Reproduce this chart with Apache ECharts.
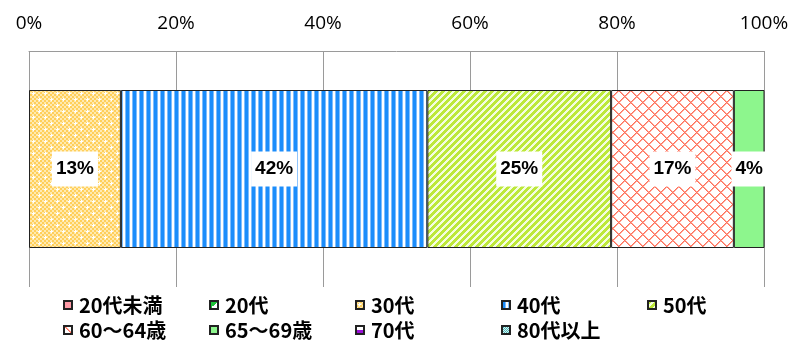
<!DOCTYPE html>
<html>
<head>
<meta charset="utf-8">
<script src="https://cdn.jsdelivr.net/npm/echarts@6/dist/echarts.min.js"></script>
<style>
  html, body { margin: 0; padding: 0; background: #fff; }
  #chart { width: 792px; height: 345px; }
</style>
</head>
<body>
<div id="chart"></div>
<script>
// Age-group composition, one stacked 100% bar
const ageGroups = ['20代未満', '20代', '30代', '40代', '50代', '60～64歳', '65～69歳', '70代', '80代以上'];
const shares = [null, null, 12.5, 41.7, 25.0, 16.7, 4.2, null, null];
const axisTicks = [0, 20, 40, 60, 80, 100];
const legendRows = [
  ['20代未満', '20代', '30代', '40代', '50代'],
  ['60～64歳', '65～69歳', '70代', '80代以上']
];

// Small tiled fills built pixel by pixel
function makeTile(w, h, pixel) {
  const c = document.createElement('canvas');
  c.width = w; c.height = h;
  const ctx = c.getContext('2d');
  for (let y = 0; y < h; y++) {
    for (let x = 0; x < w; x++) {
      ctx.fillStyle = pixel(x, y);
      ctx.fillRect(x, y, 1, 1);
    }
  }
  return { image: c, repeat: 'repeat' };
}

// 30代: fine yellow checker with white sparkles
const fill30 = makeTile(12, 12, (x, y) => {
  const sparks = [[3, 3], [9, 9]];
  for (const [sx, sy] of sparks) {
    if ((x === sx && Math.abs(y - sy) <= 1) || (y === sy && Math.abs(x - sx) <= 1)) return '#ffffff';
  }
  return ((Math.floor(x / 2) + Math.floor(y / 2)) % 2 === 0) ? '#ffcf5a' : '#ffeab0';
});

// 40代: vertical blue stripes
const fill40 = makeTile(7, 1, (x) => {
  if (x < 3) return '#1b8dfb';
  if (x === 3 || x === 6) return '#7fbdfc';
  return '#ffffff';
});

// 50代: rising diagonal yellow-green stripes
const fill50 = makeTile(7, 7, (x, y) => ((x + y) % 7 < 4) ? '#bde83a' : '#f4fde0');

// 60～64歳: salmon diamond lattice on white
const fill60 = makeTile(12, 12, (x, y) => {
  const d1 = (x + y) % 12;
  const d2 = (x - y + 120) % 12;
  if (d1 < 1 || d2 < 1) return '#ff6f5a';
  if (d1 < 2 || d2 < 2) return '#ffa898';
  return '#ffffff';
});

// 80代以上: teal check
const fill80 = makeTile(4, 4, (x, y) => ((x + y) % 2 === 0) ? '#4fb8b8' : '#d8f3f3');

const fills = [
  '#ff9aa6',
  { type: 'linear', x: 0, y: 0, x2: 1, y2: 1, colorStops: [
    { offset: 0, color: '#1fc43a' }, { offset: 0.5, color: '#1fc43a' },
    { offset: 0.5, color: '#ffffff' }, { offset: 1, color: '#ffffff' } ] },
  fill30,
  fill40,
  fill50,
  fill60,
  '#8df68d',
  { type: 'linear', x: 0, y: 0, x2: 0, y2: 1, colorStops: [
    { offset: 0, color: '#ffffff' }, { offset: 0.5, color: '#ffffff' },
    { offset: 0.5, color: '#9a10d8' }, { offset: 1, color: '#9a10d8' } ] },
  fill80
];

const labelFont = '"Liberation Sans", Arial, sans-serif';
const cjkFont = '"Noto Sans CJK JP", "Noto Sans", sans-serif';

const series = ageGroups.map((name, i) => ({
  name: name,
  type: 'bar',
  stack: 'total',
  barWidth: 158,
  data: [shares[i] == null ? '-' : shares[i]],
  itemStyle: { color: fills[i], borderColor: '#222', borderWidth: 1 },
  label: {
    show: shares[i] != null,
    position: 'inside',
    formatter: (p) => Math.round(p.value) + '%',
    backgroundColor: '#ffffff',
    padding: [8, 4, 8, 4],
    color: '#000',
    fontFamily: labelFont,
    fontWeight: 'bold',
    fontSize: 19
  },
  emphasis: { disabled: true }
}));

// One legend block per entry so the entries sit in fixed columns
const legends = [];
legendRows.forEach((row, r) => {
  row.forEach((name, c) => {
    legends.push({
      data: [name],
      left: 63 + c * 146,
      top: 295 + r * 25,
      padding: 0,
      itemWidth: 8,
      itemHeight: 8,
      selectedMode: false,
      icon: 'rect',
      textStyle: {
        fontFamily: cjkFont,
        fontWeight: 'bold',
        fontSize: 20,
        color: '#000',
        padding: [0, 0, 0, 2]
      }
    });
  });
});

const chart = echarts.init(document.getElementById('chart'), null, { renderer: 'canvas' });
chart.setOption({
  animation: false,
  backgroundColor: '#ffffff',
  grid: { left: 29, right: 28, top: 51, bottom: 58, containLabel: false },
  xAxis: {
    type: 'value',
    position: 'top',
    min: axisTicks[0],
    max: axisTicks[axisTicks.length - 1],
    interval: axisTicks[1] - axisTicks[0],
    axisLine: { show: true, lineStyle: { color: '#9a9a9a', width: 1 } },
    axisTick: { show: false },
    axisLabel: {
      formatter: '{value}%',
      margin: 18,
      color: '#000',
      fontFamily: '"Open Sans", "Liberation Sans", sans-serif',
      fontSize: 19
    },
    splitLine: { show: true, lineStyle: { color: '#9a9a9a', width: 1 } }
  },
  yAxis: {
    type: 'category',
    data: [''],
    show: false
  },
  legend: legends,
  series: series
});
</script>
</body>
</html>
